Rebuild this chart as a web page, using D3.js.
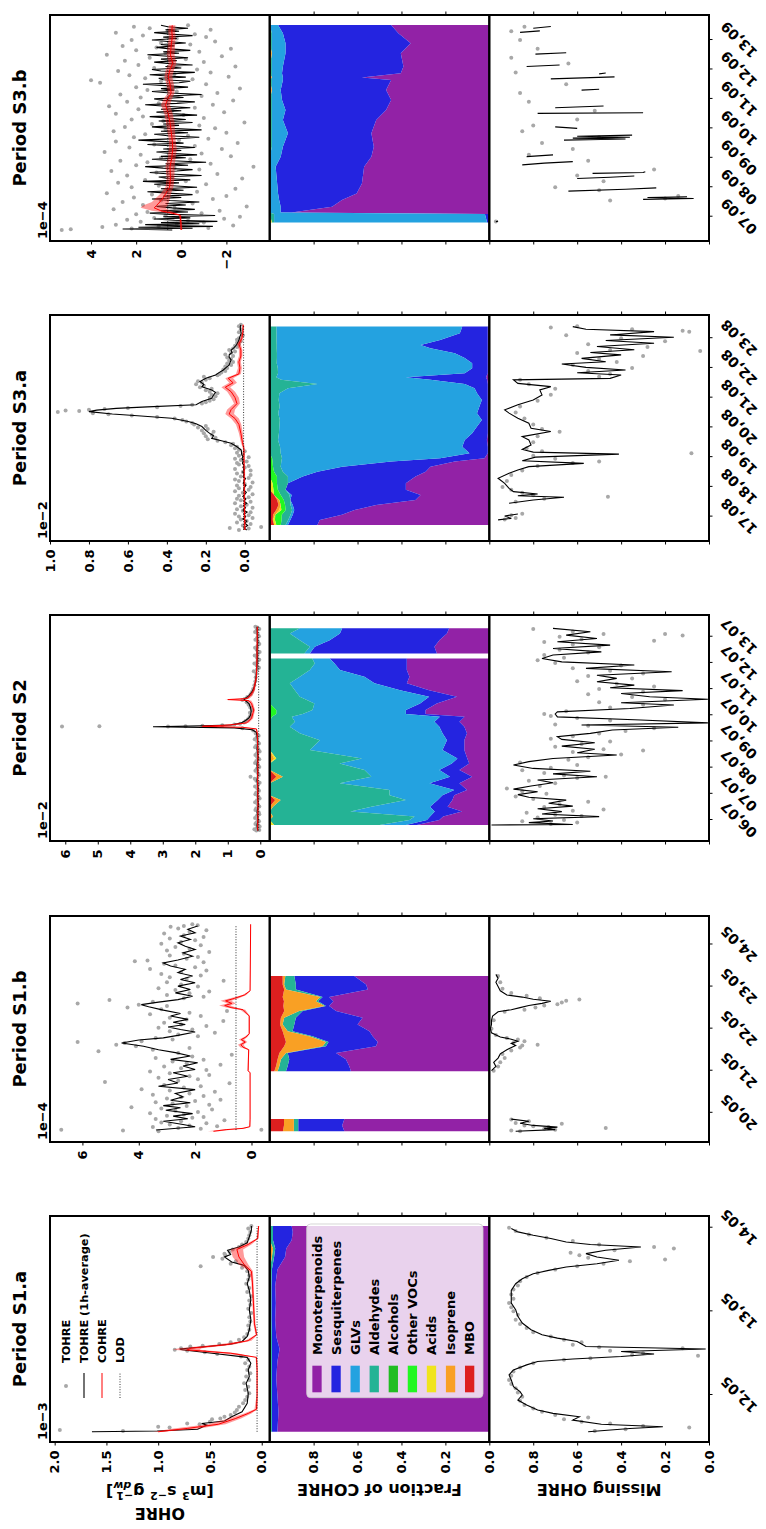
<!DOCTYPE html>
<html>
<head>
<meta charset="utf-8">
<script src="https://cdn.jsdelivr.net/npm/d3@7"></script>
<style>
  body { margin: 0; background: #fff; }
  svg { display: block; }
  text { font-family: "DejaVu Sans", sans-serif; font-weight: bold; }
</style>
</head>
<body>
<div id="chart"></div>
<script>
// index.html
// The figure is laid out landscape (5 periods side by side, 3 rows) and then turned onto the page.

// ---------- data : Period S1.a (May, OHRE x1e-3) ----------
const s1aDots = [[11.58,1.95],[11.57,1.34],[11.61,0.89],[11.62,1.0],[11.65,0.6],[11.66,0.72],[11.68,0.5],[11.71,0.48],[11.72,0.4],[11.74,0.36],[11.76,0.3],[11.79,0.26],[11.82,0.24],[11.86,0.22],[11.9,0.18],[11.94,0.16],
  [11.98,0.14],[12.02,0.12],[12.06,0.16],[12.1,0.13],[12.14,0.17],[12.18,0.12],[12.22,0.15],[12.26,0.11],[12.3,0.14],[12.34,0.12],[12.38,0.16],[12.42,0.13],[12.46,0.2],
  [12.49,0.43],[12.51,0.55],[12.53,0.72],[12.54,0.84],[12.56,0.78],[12.58,0.69],[12.59,0.57],[12.61,0.41],[12.63,0.3],[12.66,0.22],[12.69,0.17],
  [12.73,0.14],[12.78,0.12],[12.83,0.13],[12.88,0.11],[12.93,0.12],[12.98,0.1],[13.03,0.13],[13.08,0.11],[13.13,0.12],[13.18,0.1],[13.23,0.14],[13.28,0.12],[13.33,0.15],[13.38,0.13],[13.43,0.12],[13.48,0.14],[13.52,0.19],
  [13.54,0.59],[13.57,0.3],[13.6,0.25],[13.63,0.38],[13.65,0.47],[13.67,0.35],[13.69,0.36],[13.71,0.31],[13.74,0.28],[13.77,0.22],[13.8,0.19],[13.83,0.15],
  [13.87,0.13],[13.91,0.12],[13.95,0.11],[13.99,0.13],[14.02,0.1]];
const s1aAvg = [[11.56,1.64],[11.57,1.01],[11.59,0.62],[11.64,0.53],[11.66,0.58],[11.69,0.36],[11.74,0.29],[11.8,0.19],[11.9,0.14],[12.02,0.13],[12.14,0.15],[12.22,0.12],[12.3,0.13],[12.38,0.105],[12.45,0.14],[12.5,0.48],[12.54,0.77],[12.55,0.79],[12.58,0.53],[12.61,0.29],[12.64,0.19],[12.7,0.14],[12.78,0.12],[12.9,0.105],[13.02,0.12],[13.14,0.105],[13.25,0.12],[13.33,0.14],[13.41,0.12],[13.49,0.13],[13.55,0.17],[13.59,0.29],[13.65,0.36],[13.68,0.3],[13.73,0.33],[13.77,0.22],[13.82,0.14],[13.89,0.12],[13.97,0.1],[14.02,0.1]];
// COHRE: [day, value, low, high]
const s1aCohre = [[11.56,1.0,0.95,1.05],[11.6,0.72,0.6,0.85],[11.65,0.42,0.35,0.52],[11.72,0.25,0.2,0.32],[11.78,0.13,0.1,0.17],[11.83,0.05,0.04,0.07],[12.0,0.045,0.04,0.05],[12.3,0.045,0.04,0.05],[12.45,0.05,0.045,0.06],[12.5,0.3,0.24,0.4],[12.54,0.72,0.6,0.86],[12.56,0.68,0.58,0.8],[12.6,0.35,0.28,0.45],[12.65,0.13,0.1,0.16],[12.72,0.05,0.04,0.06],[12.85,0.07,0.06,0.08],[13.1,0.08,0.07,0.09],[13.35,0.09,0.08,0.1],[13.48,0.1,0.085,0.12],[13.56,0.17,0.13,0.22],[13.65,0.22,0.17,0.28],[13.74,0.24,0.18,0.3],[13.8,0.13,0.1,0.16],[13.87,0.04,0.03,0.05],[14.02,0.03,0.025,0.035]];
const s1aFracT = [11.56,11.8,12.0,12.2,12.4,12.55,12.7,12.9,13.1,13.3,13.5,13.65,13.75,13.85,13.95,14.02];
const s1aMono = [0.965,0.96,0.965,0.97,0.965,0.955,0.97,0.975,0.972,0.975,0.965,0.93,0.92,0.9,0.895,0.9];
const s1aSesq = [0.025,0.03,0.025,0.02,0.025,0.035,0.02,0.017,0.02,0.017,0.025,0.05,0.05,0.085,0.09,0.085];
const s1aAld = [0.01,0.01,0.01,0.01,0.01,0.01,0.01,0.008,0.008,0.008,0.01,0.01,0.01,0.015,0.015,0.015];
const s1aIso = [0,0,0,0,0,0,0,0,0,0,0,0.01,0.015,0,0,0];
const s1aMiss = [[11.56,0.55],[11.6,0.36],[11.62,0.21],[11.65,0.49],[11.7,0.62],[11.74,0.59],[11.78,0.71],[11.82,0.78],[11.88,0.83],[11.94,0.87],[12.0,0.85],[12.04,0.86],[12.1,0.89],[12.18,0.9],[12.24,0.91],[12.3,0.89],[12.36,0.83],[12.4,0.78],[12.43,0.62],[12.46,0.4],[12.49,0.25],[12.52,0.4],[12.55,0.015],[12.58,0.56],[12.61,0.58],[12.64,0.6],[12.68,0.69],[12.72,0.76],[12.78,0.81],[12.86,0.85],[12.94,0.87],[13.02,0.88],[13.1,0.9],[13.18,0.9],[13.25,0.9],[13.33,0.88],[13.39,0.85],[13.45,0.8],[13.49,0.73],[13.53,0.65],[13.57,0.51],[13.61,0.41],[13.65,0.51],[13.69,0.56],[13.73,0.47],[13.77,0.31],[13.8,0.54],[13.83,0.65],[13.87,0.72],[13.91,0.8],[13.95,0.87],[13.99,0.9]];
const s1aMissDots = [[11.57,0.52],[11.59,0.38],[11.61,0.09],[11.63,0.3],[11.66,0.45],[11.68,0.58],[11.71,0.66],[11.73,0.55],[11.76,0.7],[11.8,0.76],[11.84,0.8],[11.88,0.84],[11.93,0.86],[11.98,0.85],[12.03,0.87],[12.08,0.88],[12.13,0.9],[12.18,0.91],[12.23,0.9],[12.28,0.89],[12.33,0.86],[12.38,0.8],[12.42,0.66],[12.44,0.54],[12.47,0.05],[12.48,0.35],[12.5,0.3],[12.53,0.45],[12.56,0.12],[12.57,0.5],[12.6,0.62],[12.63,0.58],[12.66,0.66],[12.7,0.72],[12.75,0.8],[12.8,0.83],[12.85,0.86],[12.9,0.88],[12.96,0.87],[13.0,0.89],[13.05,0.9],[13.1,0.91],[13.15,0.89],[13.2,0.9],[13.26,0.89],[13.31,0.87],[13.36,0.86],[13.41,0.83],[13.46,0.78],[13.5,0.7],[13.54,0.6],[13.57,0.48],[13.6,0.36],[13.62,0.2],[13.64,0.55],[13.67,0.59],[13.7,0.63],[13.73,0.43],[13.75,0.16],[13.77,0.25],[13.8,0.5],[13.84,0.62],[13.88,0.74],[13.92,0.82],[13.96,0.88],[14.0,0.91]];

// ---------- data : Period S1.b (May, OHRE x1e-4) ----------
const s1bDots = [[19.56,3.3],[19.58,4.56],[19.6,6.75],[19.6,-0.35],[19.62,1.8],[19.64,2.6],[19.66,3.5],[19.68,1.22],[19.7,2.2],[19.72,2.9],[19.75,1.6],[19.77,3.2],[19.8,2.5],[19.82,0.96],[19.85,3.4],[19.88,2.1],[19.9,1.7],[19.93,3.0],[19.96,2.4],[19.99,3.6],[20.02,1.9],[20.05,2.7],[20.08,1.4],[20.1,3.2],[20.13,4.26],[20.16,2.3],[20.19,1.5],[20.22,2.8],[20.25,3.4],[20.28,2.0],[20.31,1.1],[20.34,3.0],[20.37,2.5],[20.4,1.7],[20.43,3.5],[20.46,2.2],[20.5,1.3],[20.53,2.9],[20.56,3.9],[20.6,2.4],[20.63,1.8],[20.66,3.1],[20.7,0.78],[20.73,5.2],[20.76,2.6],[20.8,1.9],[20.83,3.3],[20.87,2.2],[20.9,1.5],[20.94,2.9],[20.98,3.6],[21.02,1.6],[21.06,2.5],[21.1,3.1],[21.14,1.1],[21.18,2.3],[21.22,2.8],[21.26,1.7],[21.3,3.4],[21.34,2.1],[21.38,0.7],[21.42,2.6],[21.46,5.43],[21.5,3.5],[21.54,2.2],[21.58,4.1],[21.62,4.8],[21.66,4.5],[21.68,6.17],[21.7,3.9],[21.74,2.8],[21.78,3.4],[21.82,1.9],[21.86,2.6],[21.9,1.3],[21.94,2.9],[21.98,2.1],[22.02,3.3],[22.06,1.6],[22.1,2.5],[22.14,3.1],[22.18,1.0],[22.22,2.3],[22.26,2.9],[22.3,1.8],[22.34,3.6],[22.38,2.2],[22.42,0.87],[22.46,3.2],[22.5,4.4],[22.54,3.0],[22.57,4.0],[22.6,6.17],[22.64,3.5],[22.68,5.04],[22.72,2.4],[22.76,1.7],[22.8,3.0],[22.84,2.2],[22.88,1.5],[22.92,2.7],[22.96,3.3],[23.0,1.9],[23.05,2.5],[23.1,3.0],[23.14,0.99],[23.18,2.3],[23.22,2.9],[23.26,1.8],[23.3,3.2],[23.34,2.5],[23.38,1.6],[23.42,3.6],[23.46,2.0],[23.5,2.7],[23.54,3.1],[23.58,1.7],[23.6,4.14],[23.62,3.69],[23.66,2.3],[23.7,1.9],[23.74,2.9],[23.78,2.4],[23.82,1.5],[23.86,3.0],[23.9,2.2],[23.94,2.7],[23.98,1.8],[24.02,3.2],[24.06,2.5],[24.1,2.0],[24.14,2.9],[24.18,1.7],[24.22,2.4],[24.26,3.1],[24.3,2.2],[24.34,1.6],[24.38,2.6],[24.42,2.87],[24.44,2.4],[24.46,1.91],[24.48,2.1]];
const s1bAvg = [[19.59,3.39],[19.67,2.0],[19.72,2.43],[19.8,3.13],[19.86,2.26],[19.92,2.78],[19.98,2.09],[20.06,3.04],[20.12,2.52],[20.17,3.13],[20.24,2.17],[20.3,2.87],[20.38,2.43],[20.46,2.7],[20.55,2.0],[20.63,3.3],[20.71,2.61],[20.79,2.96],[20.87,2.26],[20.95,2.78],[21.03,2.0],[21.11,2.43],[21.19,1.91],[21.27,2.87],[21.35,2.17],[21.43,2.7],[21.5,3.3],[21.58,3.83],[21.66,4.61],[21.73,4.0],[21.78,3.13],[21.84,2.61],[21.92,2.0],[21.98,2.52],[22.04,2.96],[22.1,2.35],[22.15,2.78],[22.22,2.26],[22.3,2.87],[22.36,2.52],[22.44,3.13],[22.52,3.65],[22.57,3.91],[22.63,3.3],[22.69,2.61],[22.77,2.09],[22.85,2.7],[22.93,2.17],[23.01,2.61],[23.09,2.0],[23.17,2.52],[23.25,2.09],[23.33,2.61],[23.41,2.35],[23.49,2.87],[23.56,3.13],[23.63,2.61],[23.72,2.09],[23.8,2.43],[23.88,2.0],[23.96,2.35],[24.04,2.61],[24.12,2.17],[24.2,2.52],[24.28,2.0],[24.36,2.26],[24.44,1.91]];
const s1bCohre = [[19.56,1.35,1.15,1.55],[19.6,0.9,0.7,1.1],[19.63,0.3,0.2,0.4],[19.67,0.06,0.04,0.08],[19.85,0.05,0.04,0.06],[20.95,0.05,0.04,0.06],[21.0,0.12,0.1,0.14],[21.5,0.1,0.08,0.12],[21.56,0.3,0.22,0.4],[21.62,0.38,0.28,0.48],[21.68,0.22,0.15,0.3],[21.74,0.36,0.26,0.45],[21.8,0.2,0.14,0.26],[21.88,0.08,0.06,0.1],[22.3,0.08,0.06,0.1],[22.45,0.3,0.22,0.4],[22.5,0.72,0.55,0.9],[22.55,0.95,0.75,1.15],[22.6,0.7,0.55,0.85],[22.66,0.92,0.72,1.1],[22.72,0.6,0.45,0.75],[22.8,0.25,0.18,0.32],[22.9,0.05,0.04,0.06],[24.48,0.03,0.02,0.04]];
const s1bFracT = [19.56,19.70,19.85,20.99,21.11,21.27,21.42,21.58,21.68,21.82,21.94,22.10,22.26,22.42,22.54,22.65,22.75,22.93,23.05,23.25];
const s1bMono = [0.66,0.67,0.66,0.63,0.638,0.653,0.698,0.516,0.508,0.531,0.546,0.6,0.577,0.698,0.729,0.71,0.729,0.553,0.561,0.615];
const s1bSesq = [0.21,0.2,0.21,0.296,0.28,0.258,0.22,0.228,0.224,0.274,0.35,0.288,0.304,0.152,0.015,0.07,0.03,0.328,0.32,0.273];
const s1bAld = [0.02,0.02,0.02,0.038,0.038,0.038,0.008,0.015,0.012,0.015,0.022,0.053,0.053,0.016,0.007,0.01,0.01,0.045,0.053,0.041];
const s1bIso = [0.05,0.045,0.045,0.015,0.015,0.015,0.03,0.175,0.182,0.114,0.023,0.012,0.015,0.068,0.187,0.145,0.172,0.008,0.007,0.012];
const s1bMbo = [0.06,0.065,0.065,0.021,0.029,0.036,0.044,0.066,0.074,0.066,0.059,0.047,0.051,0.066,0.062,0.065,0.059,0.066,0.059,0.059];
const s1bMiss = [[19.56,0.88],[19.6,0.7],[19.63,0.75],[19.66,0.69],[19.7,0.8],[19.75,0.86],[19.8,0.82],[19.85,0.9],null,[21.0,0.99],[21.1,0.97],[21.2,0.98],[21.3,0.96],[21.4,0.95],[21.5,0.92],[21.6,0.88],[21.65,0.9],[21.7,0.87],[21.75,0.9],[21.8,0.95],[21.9,0.99],[22.0,0.995],[22.1,0.99],[22.2,0.99],[22.3,0.985],[22.4,0.96],[22.45,0.9],[22.5,0.86],[22.55,0.82],[22.6,0.76],[22.65,0.72],[22.7,0.8],[22.75,0.85],[22.8,0.92],[22.9,0.95],[23.0,0.96],[23.1,0.97],[23.2,0.96],[23.29,0.97]];
const s1bMissDots = [[19.56,0.86],[19.58,0.9],[19.6,0.7],[19.62,0.75],[19.64,0.47],[19.66,0.73],[19.68,0.8],[19.7,0.84],[19.74,0.67],[19.76,0.88],[19.8,0.82],[19.84,0.9],[21.0,0.98],[21.1,0.96],[21.2,0.95],[21.3,0.93],[21.4,0.94],[21.48,0.9],[21.55,0.86],[21.6,0.85],[21.62,0.78],[21.66,0.89],[21.7,0.84],[21.74,0.87],[21.78,0.92],[21.85,0.97],[22.0,0.99],[22.2,0.98],[22.4,0.93],[22.45,0.84],[22.5,0.79],[22.55,0.75],[22.58,0.69],[22.62,0.67],[22.66,0.65],[22.69,0.59],[22.72,0.77],[22.78,0.83],[22.85,0.9],[22.95,0.94],[23.1,0.95],[23.25,0.96]];

// ---------- data : Period S2 (July, OHRE x1e-2) ----------
const s2Dots = [[5.6,0.12],[5.62,0.03],[5.65,0.18],[5.7,0.1],[5.75,0.02],[5.8,0.06],[5.85,0.15],[5.9,0.12],[5.95,0.04],[6.0,0.08],[6.08,0.16],[6.15,0.11],[6.22,0.03],[6.3,0.05],[6.38,0.15],[6.45,0.12],[6.52,0.03],[6.6,0.08],[6.68,0.16],[6.75,0.1],[6.82,0.02],[6.9,0.06],[6.98,0.15],[7.05,0.12],[7.12,0.04],[7.2,0.09],[7.28,0.16],[7.35,0.07],[7.42,0.02],[7.5,0.12],[7.58,0.17],[7.65,0.3],[7.72,0.04],[7.8,0.08],[7.88,0.15],[7.95,0.11],[8.02,0.03],[8.1,0.07],[8.18,0.16],[8.25,0.12],[8.32,0.03],[8.4,0.09],[8.48,0.15],[8.55,0.1],[8.62,0.02],[8.7,0.06],[8.78,0.16],[8.85,0.12],[8.92,0.04],[9.0,0.09],[9.08,0.17],[9.15,0.11],[9.22,0.05],[9.3,0.14],[9.42,0.22],[9.5,0.55],[9.57,6.1],[9.58,4.95],[9.57,2.84],[9.58,2.3],[9.6,1.78],[9.62,1.17],[9.65,0.8],[9.68,0.62],[9.72,0.5],[9.78,0.45],[9.85,0.38],[9.92,0.33],[10.0,0.3],[10.1,0.32],[10.2,0.26],[10.3,0.31],[10.4,0.36],[10.5,0.42],[10.58,0.55],[10.62,0.48],[10.7,0.4],[10.8,0.3],[10.9,0.25],[11.0,0.22],[11.15,0.18],[11.3,0.15],[11.45,0.14],[11.6,0.12],[11.68,0.2],[11.75,0.1],[11.82,0.04],[11.9,0.11],[11.98,0.18],[12.05,0.09],[12.12,0.03],[12.2,0.1],[12.28,0.17],[12.35,0.08],[12.42,0.02],[12.5,0.11],[12.58,0.16],[12.65,0.09],[12.72,0.03],[12.8,0.07],[12.88,0.15],[12.95,0.1],[13.02,0.04],[13.1,0.08],[13.18,0.16],[13.25,0.11],[13.3,0.03],[13.35,0.09],[13.38,0.15]];
const s2Avg = [[5.6,0.08],[5.8,0.1],[6.0,0.07],[6.3,0.1],[6.6,0.06],[6.9,0.09],[7.2,0.07],[7.5,0.1],[7.8,0.08],[8.1,0.1],[8.4,0.07],[8.7,0.1],[9.0,0.08],[9.2,0.1],[9.35,0.12],[9.45,0.25],[9.52,0.8],[9.56,3.3],[9.6,1.8],[9.63,0.9],[9.7,0.6],[9.8,0.45],[9.9,0.35],[10.0,0.3],[10.15,0.28],[10.3,0.3],[10.45,0.35],[10.55,0.45],[10.62,0.5],[10.68,0.42],[10.75,0.35],[10.9,0.25],[11.1,0.18],[11.3,0.14],[11.6,0.12],[11.9,0.1],[12.2,0.09],[12.5,0.1],[12.8,0.08],[13.1,0.09],[13.38,0.1]];
const s2Cohre = [[5.6,0.08,0.06,0.1],[6.5,0.07,0.05,0.09],[7.5,0.08,0.06,0.1],[8.5,0.07,0.05,0.09],[9.3,0.09,0.07,0.11],[9.48,0.12,0.1,0.15],[9.54,0.55,0.45,0.7],[9.58,1.78,1.5,2.0],[9.61,1.2,1.0,1.4],[9.64,0.87,0.72,1.0],[9.71,0.42,0.35,0.5],[9.88,0.27,0.22,0.32],[10.2,0.2,0.16,0.24],[10.45,0.27,0.22,0.32],[10.56,0.35,0.28,0.42],[10.6,1.0,0.85,1.1],[10.64,0.4,0.33,0.48],[10.75,0.3,0.24,0.36],[10.96,0.2,0.16,0.24],[11.47,0.12,0.1,0.14],[12.2,0.1,0.08,0.12],[13.38,0.09,0.07,0.11]];
const s2FracT = [5.81,6.0,6.13,6.32,6.51,6.76,6.95,7.15,7.4,7.65,7.91,8.16,8.35,8.67,9.05,9.31,9.56,9.75,9.94,10.05,10.2,10.45,10.71,10.96,11.22,11.47,11.73,11.98,12.17,12.36,12.62,12.87,13.12,13.32];
const s2Mono = [0.33,0.224,0.21,0.123,0.19,0.168,0.157,0.1,0.134,0.078,0.134,0.09,0.1,0.112,0.112,0.1,0.112,0.134,0.112,0.29,0.29,0.235,0.145,0.27,0.37,0.358,0.37,0.37,0.37,0.235,0.246,0.224,0.19,0.18];
const s2Sesq = [0.05,0.056,0.06,0.123,0.08,0.067,0.053,0.057,0.134,0.101,0.09,0.078,0.045,0.098,0.078,0.11,0.112,0.112,0.112,0.09,0.09,0.075,0.125,0.13,0.145,0.202,0.3,0.324,0.346,0.57,0.537,0.492,0.48,0.48];
const s2Glv = [0.12,0.078,0.07,0.38,0.267,0.145,0.237,0.29,0.403,0.358,0.335,0.503,0.435,0.595,0.57,0.64,0.671,0.626,0.671,0.47,0.425,0.473,0.58,0.472,0.38,0.29,0.135,0.089,0.078,0.025,0.022,0.134,0.225,0.19];
const s2Ald = [0.48,0.627,0.645,0.364,0.448,0.57,0.537,0.537,0.313,0.403,0.425,0.313,0.39,0.18,0.225,0.135,0.09,0.113,0.09,0.12,0.165,0.2,0.135,0.113,0.09,0.135,0.18,0.202,0.191,0.155,0.18,0.135,0.09,0.135];
const s2Oth = [0,0,0,0,0,0,0,0,0,0,0,0,0,0,0,0,0,0,0.01,0.03,0.03,0,0,0,0,0,0,0,0,0,0,0,0,0];
const s2Acid = [0.02,0,0,0,0,0,0,0,0,0,0,0,0.01,0,0,0,0,0,0,0,0,0,0,0,0,0,0,0,0,0,0,0,0,0];
const s2Iso = [0,0,0.015,0,0.015,0.025,0,0,0,0.03,0,0,0.02,0,0,0,0,0,0,0,0,0,0,0,0,0,0,0,0,0,0,0,0,0];
const s2Mbo = [0,0,0,0,0,0.025,0,0,0,0.03,0,0,0,0,0,0,0,0,0,0,0,0,0,0,0,0,0,0,0,0,0,0,0,0];
const s2Miss = [[5.81,0.99],[5.83,0.62],[5.9,0.82],[5.96,0.71],[6.05,0.8],[6.13,0.5],[6.23,0.76],[6.32,0.67],[6.43,0.78],[6.53,0.62],[6.64,0.73],[6.76,0.65],[6.87,0.82],[6.97,0.87],[7.08,0.78],[7.18,0.89],[7.3,0.81],[7.42,0.71],[7.53,0.78],[7.65,0.51],[7.76,0.71],[7.86,0.54],[7.97,0.8],[8.1,0.89],[8.23,0.82],[8.35,0.71],[8.48,0.42],[8.57,0.6],[8.7,0.52],[8.82,0.67],[8.95,0.52],[9.08,0.67],[9.18,0.69],[9.31,0.54],[9.44,0.44],[9.54,0.14],[9.63,0.58],[9.71,0.005],[9.82,0.31],[9.94,0.69],[10.05,0.7],[10.13,0.69],[10.26,0.36],[10.39,0.16],[10.48,0.4],[10.61,0.005],[10.71,0.27],[10.83,0.4],[10.94,0.12],[11.05,0.45],[11.15,0.34],[11.28,0.51],[11.41,0.42],[11.53,0.51],[11.66,0.17],[11.79,0.56],[11.92,0.34],[12.04,0.67],[12.17,0.76],[12.3,0.71],[12.42,0.49],[12.55,0.71],[12.68,0.45],[12.81,0.69],[12.93,0.51],[13.06,0.65],[13.19,0.54],[13.32,0.71]];
const s2MissDots = [[5.85,0.72],[5.9,0.6],[5.95,0.85],[6.0,0.66],[6.1,0.78],[6.15,0.58],[6.2,0.7],[6.28,0.83],[6.35,0.62],[6.4,0.48],[6.5,0.75],[6.6,0.68],[6.7,0.55],[6.8,0.8],[6.9,0.88],[7.0,0.74],[7.1,0.85],[7.2,0.92],[7.3,0.77],[7.4,0.7],[7.5,0.82],[7.6,0.6],[7.65,0.47],[7.7,0.66],[7.8,0.75],[7.9,0.85],[8.0,0.72],[8.1,0.6],[8.2,0.86],[8.3,0.64],[8.4,0.55],[8.5,0.4],[8.6,0.62],[8.65,0.3],[8.7,0.48],[8.8,0.7],[8.9,0.58],[9.0,0.45],[9.1,0.72],[9.2,0.62],[9.3,0.5],[9.4,0.38],[9.5,0.25],[9.6,0.55],[9.65,0.7],[9.8,0.45],[9.9,0.6],[9.97,0.72],[10.05,0.75],[10.15,0.65],[10.3,0.45],[10.4,0.3],[10.5,0.5],[10.6,0.2],[10.7,0.35],[10.8,0.55],[10.9,0.3],[11.0,0.5],[11.1,0.25],[11.2,0.42],[11.3,0.6],[11.4,0.35],[11.5,0.55],[11.6,0.3],[11.7,0.45],[11.8,0.62],[11.9,0.4],[12.0,0.7],[12.1,0.78],[12.2,0.66],[12.3,0.75],[12.4,0.55],[12.5,0.68],[12.6,0.5],[12.7,0.62],[12.8,0.75],[12.9,0.58],[13.0,0.68],[13.1,0.48],[13.2,0.62],[13.3,0.8],[13.1,0.2],[12.85,0.25],[13.05,0.12]];

// ---------- data : Period S3.a (August, OHRE x1e-2) ----------
const s3aDots = [[16.55,0.03],[16.6,-0.02],[16.62,0.077],[16.65,-0.084],[16.7,0.01],[16.75,-0.03],[16.8,0.04],[16.85,-0.01],[16.9,0.02],[16.95,-0.04],[17.0,0.03],[17.05,-0.02],[17.1,0.05],[17.15,-0.03],[17.2,0.01],[17.25,0.04],[17.3,-0.04],[17.35,0.02],[17.4,-0.01],[17.45,0.05],[17.5,-0.03],[17.55,0.02],[17.6,0.04],[17.65,-0.02],[17.7,0.03],[17.75,-0.04],[17.8,0.01],[17.85,0.05],[17.9,-0.02],[17.95,0.03],[18.0,-0.03],[18.05,0.04],[18.1,0.0],[18.15,-0.04],[18.2,0.03],[18.25,0.05],[18.3,-0.02],[18.35,0.02],[18.4,-0.03],[18.45,0.04],[18.5,0.01],[18.55,-0.03],[18.6,0.05],[18.65,0.0],[18.7,-0.02],[18.75,0.03],[18.8,0.04],[18.85,-0.01],[18.9,0.02],[18.95,0.05],[19.0,-0.02],[19.05,0.03],[19.1,0.01],[19.15,0.04],[19.2,0.0],[19.25,0.03],[19.3,0.05],[19.35,0.04],[19.4,0.07],[19.45,0.06],[19.5,0.1],[19.55,0.14],[19.6,0.19],[19.65,0.15],[19.7,0.2],[19.75,0.17],[19.8,0.21],[19.85,0.16],[19.9,0.22],[19.95,0.19],[20.0,0.24],[20.05,0.2],[20.1,0.26],[20.15,0.27],[20.2,0.3],[20.25,0.32],[20.3,0.36],[20.35,0.45],[20.4,0.58],[20.44,0.7],[20.48,0.78],[20.52,0.96],[20.55,0.85],[20.57,0.92],[20.59,0.8],[20.62,0.72],[20.65,0.6],[20.68,0.45],[20.72,0.33],[20.76,0.27],[20.8,0.22],[20.85,0.2],[20.9,0.18],[20.95,0.16],[21.0,0.18],[21.05,0.15],[21.1,0.17],[21.15,0.14],[21.2,0.18],[21.25,0.2],[21.3,0.17],[21.35,0.23],[21.4,0.21],[21.45,0.25],[21.5,0.22],[21.55,0.24],[21.6,0.2],[21.65,0.18],[21.7,0.21],[21.75,0.14],[21.8,0.13],[21.85,0.12],[21.9,0.1],[21.95,0.11],[22.0,0.09],[22.05,0.1],[22.1,0.07],[22.15,0.09],[22.2,0.06],[22.25,0.08],[22.3,0.07],[22.35,0.09],[22.4,0.06],[22.45,0.1],[22.5,0.07],[22.55,0.05],[22.6,0.08],[22.65,0.06],[22.7,0.04],[22.75,0.05],[22.8,0.03],[22.85,0.04],[22.9,0.02],[22.95,0.04],[23.0,0.03],[23.1,0.01],[23.2,0.03],[23.3,0.02],[23.4,0.03],[23.45,0.02]];
const s3aAvg = [[16.55,-0.01],[16.62,0.005],[16.7,-0.015],[16.78,0.0],[16.85,-0.01],[16.92,0.01],[17.0,-0.005],[17.08,0.005],[17.15,-0.012],[17.22,0.008],[17.3,-0.004],[17.38,0.006],[17.45,-0.01],[17.52,0.004],[17.6,-0.006],[17.68,0.01],[17.75,0.0],[17.82,-0.008],[17.9,0.006],[17.98,0.002],[18.05,-0.006],[18.12,0.008],[18.2,0.004],[18.28,-0.004],[18.35,0.008],[18.42,0.003],[18.5,0.01],[18.58,0.002],[18.65,0.009],[18.72,0.005],[18.8,0.012],[18.88,0.008],[18.95,0.014],[19.02,0.01],[19.1,0.016],[19.24,0.018],[19.35,0.04],[19.47,0.07],[19.55,0.12],[19.63,0.17],[19.72,0.16],[19.8,0.18],[19.9,0.2],[20.03,0.22],[20.12,0.25],[20.2,0.29],[20.31,0.375],[20.39,0.55],[20.45,0.68],[20.53,0.8],[20.58,0.76],[20.64,0.66],[20.69,0.5],[20.76,0.25],[20.87,0.22],[20.98,0.17],[21.09,0.16],[21.18,0.15],[21.26,0.17],[21.37,0.22],[21.45,0.21],[21.54,0.23],[21.65,0.2],[21.76,0.15],[21.85,0.13],[21.93,0.11],[22.02,0.095],[22.1,0.08],[22.19,0.075],[22.27,0.07],[22.36,0.08],[22.44,0.08],[22.52,0.065],[22.6,0.07],[22.68,0.055],[22.77,0.043],[22.86,0.035],[22.94,0.03],[23.05,0.025],[23.17,0.018],[23.28,0.022],[23.39,0.023],[23.45,0.02]];
const s3aCohre = [[16.55,0.0,-0.005,0.005],[17.5,0.002,-0.003,0.007],[18.5,0.003,-0.002,0.008],[19.3,0.005,0.0,0.01],[19.5,0.012,0.005,0.02],[19.8,0.02,0.01,0.03],[20.1,0.03,0.018,0.045],[20.3,0.05,0.03,0.07],[20.45,0.08,0.055,0.1],[20.6,0.07,0.05,0.09],[20.8,0.04,0.025,0.055],[21.0,0.05,0.03,0.07],[21.2,0.07,0.05,0.09],[21.35,0.1,0.075,0.12],[21.5,0.06,0.04,0.08],[21.65,0.085,0.06,0.1],[21.8,0.03,0.02,0.045],[22.0,0.025,0.015,0.035],[22.2,0.03,0.02,0.04],[22.4,0.02,0.012,0.03],[22.6,0.02,0.012,0.03],[22.8,0.03,0.02,0.04],[23.0,0.015,0.008,0.022],[23.2,0.01,0.005,0.015],[23.45,0.008,0.004,0.012]];
const s3aFracT = [16.72,16.89,17.06,17.22,17.39,17.56,17.73,17.9,18.12,18.35,18.51,18.68,18.85,18.96,19.13,19.35,19.58,19.8,20.03,20.25,20.48,20.7,20.92,21.15,21.32,21.46,21.6,21.69,21.82,21.99,22.16,22.33,22.49,22.66,22.77,22.94,23.17,23.39];
const s3aMono = [0.783,0.772,0.671,0.626,0.515,0.336,0.313,0.38,0.38,0.336,0.29,0.268,0.157,0.022,0.007,0.007,0.011,0.007,0.007,0.007,0.007,0.007,0.007,0.007,0.007,0.007,0.01,0.015,0.007,0.007,0.007,0.007,0.007,0.007,0.007,0.007,0.007,0.007];
const s3aSesq = [0.134,0.134,0.224,0.28,0.38,0.57,0.587,0.548,0.537,0.514,0.493,0.402,0.29,0.202,0.083,0.116,0.101,0.071,0.049,0.027,0.049,0.038,0.027,0.049,0.06,0.105,0.258,0.365,0.105,0.071,0.071,0.105,0.15,0.261,0.306,0.217,0.127,0.116];
const s3aGlv = [0.011,0.01,0.01,0.01,0.01,0,0.01,0,0,0.067,0.157,0.28,0.5,0.72,0.86,0.83,0.85,0.88,0.9,0.92,0.905,0.91,0.925,0.9,0.85,0.67,0.68,0.59,0.85,0.885,0.89,0.855,0.81,0.7,0.655,0.745,0.835,0.847];
const s3aAld = [0.022,0.03,0.04,0.03,0.025,0.03,0.04,0.035,0.05,0.05,0.04,0.035,0.04,0.045,0.05,0.047,0.038,0.042,0.044,0.046,0.039,0.045,0.041,0.044,0.083,0.218,0.052,0.03,0.038,0.037,0.032,0.033,0.033,0.032,0.032,0.031,0.031,0.03];
const s3aOth = [0.02,0.03,0.03,0.02,0.02,0.02,0.03,0.02,0.02,0.033,0.02,0.015,0.013,0.011,0,0,0,0,0,0,0,0,0,0,0,0,0,0,0,0,0,0,0,0,0,0,0,0];
const s3aAcid = [0.01,0.01,0,0.01,0,0,0,0.017,0.013,0,0,0,0,0,0,0,0,0,0,0,0,0,0,0,0,0,0,0,0,0,0,0,0,0,0,0,0,0];
const s3aIso = [0,0,0.01,0.014,0.01,0.01,0,0,0,0,0,0,0,0,0,0,0,0,0,0,0,0,0,0,0,0,0,0,0,0,0,0,0,0,0,0,0,0];
const s3aMbo = [0.02,0.014,0.015,0.03,0.04,0.034,0.02,0,0,0,0,0,0,0,0,0,0,0,0,0,0,0,0,0,0,0,0,0,0,0,0,0,0,0,0,0,0,0];
const s3aMiss = [[16.89,0.96],[16.94,0.9],[17.02,0.93],[17.09,0.87],null,[17.45,0.91],[17.56,0.8],[17.65,0.66],[17.7,0.87],[17.76,0.78],[17.84,0.89],[17.95,0.91],[18.12,0.93],[18.29,0.96],[18.46,0.91],[18.57,0.87],[18.68,0.82],[18.79,0.57],[18.88,0.85],[19.0,0.79],[19.1,0.41],[19.17,0.8],[19.26,0.85],[19.41,0.81],[19.58,0.82],[19.69,0.85],[19.86,0.72],[19.97,0.81],[20.14,0.82],[20.31,0.87],[20.48,0.91],[20.59,0.93],[20.76,0.87],[20.92,0.8],[21.09,0.76],[21.26,0.77],[21.37,0.72],[21.48,0.87],[21.6,0.89],[21.65,0.45],[21.76,0.4],[21.84,0.6],[21.93,0.38],[22.02,0.56],[22.13,0.67],[22.21,0.47],[22.32,0.58],[22.44,0.4],[22.52,0.54],[22.61,0.34],[22.72,0.51],[22.83,0.25],[22.92,0.47],[23.03,0.16],[23.11,0.45],[23.22,0.25],[23.3,0.56],[23.39,0.62]];
const s3aMissDots = [[16.9,0.93],[16.95,0.88],[17.05,0.9],[17.1,0.85],[17.5,0.88],[17.6,0.75],[17.67,0.46],[17.72,0.8],[17.8,0.85],[17.9,0.9],[18.0,0.94],[18.2,0.92],[18.4,0.9],[18.55,0.85],[18.7,0.78],[18.8,0.62],[18.85,0.5],[18.95,0.7],[19.05,0.8],[19.13,0.08],[19.2,0.76],[19.3,0.83],[19.5,0.8],[19.7,0.78],[19.85,0.68],[19.95,0.76],[20.1,0.8],[20.3,0.84],[20.5,0.88],[20.7,0.86],[20.9,0.78],[21.1,0.72],[21.3,0.7],[21.45,0.82],[21.6,0.86],[21.7,0.5],[21.8,0.45],[21.9,0.55],[22.0,0.35],[22.1,0.62],[22.2,0.42],[22.3,0.5],[22.4,0.3],[22.5,0.6],[22.57,0.04],[22.6,0.45],[22.7,0.28],[22.8,0.55],[22.9,0.2],[23.0,0.4],[23.1,0.65],[23.22,0.09],[23.25,0.12],[23.3,0.35],[23.36,0.72],[23.4,0.6]];

// ---------- data : Period S3.b (September, OHRE x1e-4) ----------
const s3bDots = [[6.55,5.3],[6.57,4.9],[6.6,2.2],[6.62,-1.2],[6.65,3.5],[6.68,1.0],[6.7,-2.3],[6.73,2.9],[6.76,0.2],[6.8,-1.0],[6.83,1.8],[6.86,-0.3],[6.9,2.4],[6.93,-1.9],[6.96,1.2],[7.0,-2.6],[7.04,0.7],[7.08,2.0],[7.12,-0.9],[7.16,1.5],[7.2,-1.7],[7.25,3.0],[7.3,0.3],[7.35,-2.9],[7.4,1.7],[7.45,-0.5],[7.5,2.6],[7.55,0.9],[7.6,-1.4],[7.65,2.1],[7.7,-2.0],[7.75,1.3],[7.8,3.3],[7.85,-0.7],[7.9,0.6],[7.95,-2.4],[8.0,2.2],[8.05,1.0],[8.1,-1.1],[8.15,2.8],[8.2,-0.2],[8.25,1.6],[8.3,-2.7],[8.35,0.4],[8.4,2.4],[8.45,-1.6],[8.5,1.1],[8.55,3.1],[8.6,-0.8],[8.65,0.3],[8.7,-3.2],[8.75,2.0],[8.8,-1.3],[8.85,1.5],[8.9,2.7],[8.95,-0.4],[9.0,0.9],[9.05,-2.2],[9.1,1.8],[9.15,-0.9],[9.2,3.4],[9.25,0.5],[9.3,-1.8],[9.35,2.3],[9.4,-0.6],[9.45,1.2],[9.5,-2.5],[9.55,2.9],[9.6,0.1],[9.65,-1.2],[9.7,2.1],[9.75,-0.3],[9.8,1.6],[9.85,-2.0],[9.9,3.0],[9.95,0.7],[10.0,-1.5],[10.05,2.5],[10.1,-0.8],[10.15,1.3],[10.2,-2.8],[10.25,0.8],[10.3,2.2],[10.35,-1.0],[10.4,1.7],[10.45,-0.1],[10.5,2.9],[10.55,-1.9],[10.6,0.4],[10.65,1.9],[10.7,-0.6],[10.75,3.2],[10.8,-1.4],[10.85,1.0],[10.9,2.4],[10.95,-2.3],[11.0,0.6],[11.05,1.8],[11.1,-0.9],[11.15,2.7],[11.2,-1.6],[11.25,0.2],[11.3,1.5],[11.35,-2.6],[11.4,2.0],[11.45,0.5],[11.5,-1.1],[11.55,3.6],[11.6,0.9],[11.63,4.0],[11.67,-0.5],[11.7,1.6],[11.75,-2.1],[11.8,2.3],[11.85,0.3],[11.9,-1.3],[11.95,2.8],[12.0,-0.7],[12.05,1.2],[12.1,-2.4],[12.15,1.9],[12.2,0.4],[12.25,-1.0],[12.3,2.5],[12.35,-0.2],[12.4,1.4],[12.45,-1.8],[12.5,3.3],[12.55,0.7],[12.6,-0.8],[12.65,2.0],[12.7,-2.2],[12.75,1.1],[12.8,2.6],[12.85,-0.4],[12.9,0.9],[12.95,-1.5],[13.0,2.2],[13.05,0.2],[13.1,-1.1],[13.15,1.7],[13.2,-0.6],[13.25,2.9],[13.3,0.6],[13.35,-1.3],[13.4,1.4],[13.45,2.1],[13.5,-0.3]];
const s3bAvg = [[6.55,0.4],[6.58,2.6],[6.61,-0.5],[6.64,1.9],[6.67,-1.4],[6.7,0.6],[6.73,1.6],[6.76,-0.8],[6.8,0.9],[6.84,-1.6],[6.88,0.3],[6.92,1.2],[6.96,-0.4],[7.0,0.8],[7.04,-1.5],[7.08,0.5],[7.12,1.4],[7.16,-0.3],[7.2,0.9],[7.25,-0.6],[7.3,0.4],[7.35,1.1],[7.4,-0.2],[7.45,0.7],[7.5,-0.8],[7.55,0.5],[7.6,1.3],[7.65,0.0],[7.7,0.8],[7.75,-0.5],[7.8,0.6],[7.85,1.5],[7.9,-0.1],[7.95,0.9],[8.0,-0.7],[8.05,0.4],[8.1,1.2],[8.15,0.1],[8.2,1.7],[8.25,-0.4],[8.3,0.6],[8.35,1.0],[8.4,-0.9],[8.45,0.5],[8.5,1.4],[8.55,0.2],[8.6,-0.5],[8.65,0.8],[8.7,1.6],[8.75,-0.3],[8.8,0.7],[8.85,-1.1],[8.9,0.4],[8.95,1.3],[9.0,-0.2],[9.05,0.9],[9.1,-0.7],[9.15,0.5],[9.2,1.1],[9.25,0.0],[9.3,0.8],[9.35,-0.6],[9.4,0.3],[9.45,1.5],[9.5,-0.1],[9.55,0.7],[9.6,1.9],[9.65,0.2],[9.7,-0.8],[9.75,0.6],[9.8,1.2],[9.85,-0.3],[9.9,0.9],[9.95,-0.9],[10.0,0.5],[10.05,1.3],[10.1,0.1],[10.15,0.8],[10.2,-0.5],[10.25,1.0],[10.3,-0.2],[10.35,0.6],[10.4,1.4],[10.45,-0.7],[10.5,0.4],[10.55,1.1],[10.6,0.0],[10.65,0.9],[10.7,-0.4],[10.75,0.7],[10.8,1.6],[10.85,0.2],[10.9,-0.6],[10.95,0.8],[11.0,1.2],[11.05,-0.1],[11.1,0.6],[11.15,-0.9],[11.2,0.5],[11.25,1.3],[11.3,0.3],[11.35,0.9],[11.4,-0.3],[11.45,0.7],[11.5,1.7],[11.55,0.1],[11.6,-0.4],[11.65,0.8],[11.7,1.0],[11.74,-0.2],[11.78,0.6],[11.82,1.4],[11.86,0.3],[11.9,-0.6],[11.95,0.9],[12.0,1.3],[12.05,0.0],[12.1,0.7],[12.15,-0.5],[12.2,0.5],[12.25,1.2],[12.3,0.2],[12.35,0.9],[12.4,-0.3],[12.45,0.6],[12.5,1.5],[12.55,0.1],[12.6,0.8],[12.65,-0.4],[12.7,0.5],[12.75,1.1],[12.8,0.3],[12.85,0.9],[12.9,-0.2],[12.95,0.6],[13.0,1.3],[13.05,0.2],[13.1,0.8],[13.15,-0.5],[13.2,0.5],[13.25,1.2],[13.3,0.1],[13.35,0.7],[13.4,-0.3],[13.45,0.6],[13.5,0.9]];
const s3bCohre = [[6.55,0.0,-0.05,0.05],[6.8,0.02,-0.03,0.07],[7.05,0.05,0,0.1],[7.12,0.4,0.2,0.6],[7.2,0.9,0.5,1.3],[7.3,1.2,0.7,1.8],[7.38,1.1,0.6,1.7],[7.5,0.95,0.55,1.3],[7.65,0.8,0.5,1.1],[7.8,0.68,0.45,0.9],[8.0,0.52,0.35,0.7],[8.3,0.48,0.3,0.65],[8.7,0.5,0.3,0.7],[9.0,0.42,0.25,0.6],[9.3,0.38,0.2,0.55],[9.6,0.4,0.25,0.55],[9.9,0.45,0.28,0.62],[10.2,0.5,0.3,0.68],[10.5,0.58,0.38,0.75],[10.8,0.7,0.5,0.9],[11.0,0.6,0.42,0.78],[11.2,0.45,0.3,0.6],[11.5,0.5,0.33,0.66],[11.75,0.58,0.4,0.75],[12.0,0.5,0.32,0.68],[12.2,0.38,0.22,0.55],[12.5,0.48,0.3,0.65],[12.8,0.45,0.28,0.6],[13.1,0.4,0.25,0.55],[13.3,0.42,0.28,0.58],[13.5,0.4,0.26,0.55]];
const s3bFracT = [6.8,7.09,7.14,7.34,7.57,7.79,8.13,8.7,9.04,9.38,9.83,10.28,10.62,10.96,11.3,11.64,11.73,11.87,12.1,12.55,12.89,13.23,13.51];
const s3bMono = [0,0,0.9,0.716,0.671,0.604,0.58,0.57,0.537,0.526,0.537,0.515,0.47,0.447,0.47,0.447,0.58,0.403,0.391,0.403,0.358,0.414,0.447];
const s3bSesq = [0.01,0.02,0.05,0.234,0.286,0.358,0.386,0.403,0.413,0.414,0.38,0.425,0.458,0.497,0.48,0.493,0.36,0.541,0.549,0.525,0.57,0.526,0.515];
const s3bGlv = [0.97,0.96,0.05,0.05,0.043,0.038,0.034,0.027,0.05,0.05,0.073,0.05,0.062,0.046,0.04,0.05,0.05,0.046,0.05,0.062,0.062,0.05,0.038];
const s3bAld = [0.01,0.02,0,0,0,0,0,0,0,0.01,0.01,0.01,0.01,0.01,0,0.01,0,0.01,0.01,0,0.01,0.01,0];
const s3bAcid = [0.01,0,0,0,0,0,0,0,0,0,0,0,0,0,0,0,0,0,0,0,0,0,0];
const s3bIso = [0,0,0,0,0,0,0,0,0,0,0,0,0,0,0.01,0,0.01,0,0,0.01,0,0,0];
const s3bMiss = [[6.83,0.97],[6.85,0.96],null,[7.59,0.3],[7.62,0.07],[7.65,0.28],[7.68,0.1],null,[7.87,0.64],[7.93,0.38],[7.98,0.24],null,[8.3,0.6],[8.34,0.45],[8.38,0.34],null,[8.47,0.53],[8.5,0.3],[8.53,0.29],null,[8.76,0.85],[8.82,0.75],[8.87,0.62],null,[9.04,0.83],[9.1,0.71],null,[9.6,0.66],[9.64,0.38],[9.67,0.62],[9.7,0.36],[9.73,0.6],[9.77,0.35],null,[10.0,0.6],[10.05,0.7],null,[10.51,0.78],[10.53,0.3],null,[10.7,0.7],[10.76,0.48],null,[11.3,0.58],[11.33,0.5],null,[11.68,0.72],[11.75,0.43],null,[11.85,0.5],[11.88,0.47],null,[12.1,0.83],[12.15,0.68],null,[12.52,0.79],[12.57,0.65],null,[13.26,0.86],[13.31,0.77],null,[13.4,0.8],[13.46,0.72]];
const s3bMissDots = [[6.84,0.97],[7.55,0.45],[7.62,0.2],[7.7,0.14],[7.9,0.5],[8.0,0.7],[8.2,0.48],[8.4,0.6],[8.6,0.25],[8.9,0.55],[9.1,0.82],[9.3,0.62],[9.5,0.76],[9.7,0.5],[9.9,0.85],[10.1,0.8],[10.3,0.6],[10.6,0.52],[10.9,0.82],[11.2,0.86],[11.5,0.65],[11.9,0.88],[12.2,0.64],[12.4,0.9],[12.7,0.78],[13.0,0.86],[13.3,0.9],[13.45,0.84]];

// limit of detection per period (same units as OHRE axis)
const lodLevels = [0.045, 0.55, 0.05, 0.006, 0.6];

// categories of the COHRE fractions, bottom of stack first
const fracKeys = ["mono", "sesq", "glv", "ald", "alc", "oth", "acid", "iso", "mbo"];
const fracLabels = ["Monoterpenoids", "Sesquiterpenes", "GLVs", "Aldehydes", "Alcohols", "Other VOCs", "Acids", "Isoprene", "MBO"];
const fracColors = ["#9222a6", "#2424e0", "#24a2e0", "#24b395", "#22bd22", "#22f722", "#f0e41e", "#f9a024", "#dd1f1f"];

// ---------- layout ----------
const FW = 1529, FH = 766;          // landscape figure size
const PW = 226;                     // panel width along time
const rowTop = [50, 269.7, 489.3];
const rowBot = [269.7, 489.3, 709];

const periods = [
  { title: "Period S1.a", x0: 87,   month: 4, days: [11.438, 14.14], vDom: [-0.077, 2.045], vTicks: [0, 0.5, 1, 1.5, 2], vFmt: ".1f", mult: "1e\u22123",
    dots: s1aDots, avg: s1aAvg, cohre: s1aCohre, lod: lodLevels[0],
    fracT: s1aFracT, frac: { mono: s1aMono, sesq: s1aSesq, ald: s1aAld, iso: s1aIso }, breaks: [],
    miss: s1aMiss, missDots: s1aMissDots },
  { title: "Period S1.b", x0: 387,  month: 4, days: [19.306, 24.677], vDom: [-0.646, 7.15], vTicks: [0, 2, 4, 6], vFmt: "d", mult: "1e\u22124",
    dots: s1bDots, avg: s1bAvg, cohre: s1bCohre, lod: lodLevels[1],
    fracT: s1bFracT, frac: { mono: s1bMono, sesq: s1bSesq, ald: s1bAld, iso: s1bIso, mbo: s1bMbo }, breaks: [19.9],
    miss: s1bMiss, missDots: s1bMissDots },
  { title: "Period S2", x0: 688,    month: 6, days: [5.198, 13.83], vDom: [-0.29, 6.47], vTicks: [0, 1, 2, 3, 4, 5, 6], vFmt: "d", mult: "1e\u22122",
    dots: s2Dots, avg: s2Avg, cohre: s2Cohre, lod: lodLevels[2],
    fracT: s2FracT, frac: { mono: s2Mono, sesq: s2Sesq, glv: s2Glv, ald: s2Ald, oth: s2Oth, acid: s2Acid, iso: s2Iso, mbo: s2Mbo }, breaks: [12.25],
    miss: s2Miss, missDots: s2MissDots },
  { title: "Period S3.a", x0: 988,  month: 7, days: [16.18, 23.78], vDom: [-0.128, 1.0], vTicks: [0, 0.2, 0.4, 0.6, 0.8, 1.0], vFmt: ".1f", mult: "1e\u22122",
    dots: s3aDots, avg: s3aAvg, cohre: s3aCohre, lod: lodLevels[3],
    fracT: s3aFracT, frac: { mono: s3aMono, sesq: s3aSesq, glv: s3aGlv, ald: s3aAld, oth: s3aOth, acid: s3aAcid, iso: s3aIso, mbo: s3aMbo }, breaks: [],
    miss: s3aMiss, missDots: s3aMissDots },
  { title: "Period S3.b", x0: 1288, month: 8, days: [6.175, 13.85], vDom: [-3.92, 5.82], vTicks: [-2, 0, 2, 4], vFmt: "d", mult: "1e\u22124",
    dots: s3bDots, avg: s3bAvg, cohre: s3bCohre, lod: lodLevels[4],
    fracT: s3bFracT, frac: { mono: s3bMono, sesq: s3bSesq, glv: s3bGlv, ald: s3bAld, acid: s3bAcid, iso: s3bIso }, breaks: [],
    miss: s3bMiss, missDots: s3bMissDots }
];

function toDate(day, month) {
  return new Date(Date.UTC(2021, month, 1) + (day - 1) * 864e5);
}

const svg = d3.select("#chart")
  .append("svg")
  .attr("width", FH)
  .attr("height", FW);

// rotate the landscape figure a quarter turn counter-clockwise onto the page
const fig = svg.append("g").attr("transform", `translate(0,${FW}) rotate(-90)`);
const defs = svg.append("defs");

const dotColor = "#a8a8a8";

function styleAxis(g, size) {
  g.select(".domain").remove();
  g.selectAll(".tick line").attr("stroke", "#000").attr("stroke-width", 1);
  g.selectAll(".tick text").attr("font-size", size).attr("fill", "#000")
    .attr("font-family", "DejaVu Sans").attr("font-weight", "bold");
}

periods.forEach((p, i) => {
  const x = d3.scaleUtc()
    .domain(p.days.map(d => toDate(d, p.month)))
    .range([p.x0, p.x0 + PW]);
  const xt = d => x(toDate(d, p.month));
  const y1 = d3.scaleLinear().domain(p.vDom).range([rowBot[0], rowTop[0]]);
  const y2 = d3.scaleLinear().domain([0, 1]).range([rowBot[1], rowTop[1]]);
  const y3 = d3.scaleLinear().domain([0, 1]).range([rowBot[2], rowTop[2]]);

  // clip rectangles for the three rows
  [0, 1, 2].forEach(r => {
    defs.append("clipPath").attr("id", `clip${i}${r}`)
      .append("rect")
      .attr("x", p.x0).attr("y", rowTop[r])
      .attr("width", PW).attr("height", rowBot[r] - rowTop[r]);
  });

  // ---- row 1 : OHRE ----
  const g1 = fig.append("g").attr("clip-path", `url(#clip${i}0)`);
  g1.selectAll("circle")
    .data(p.dots)
    .join("circle")
    .attr("cx", d => xt(d[0]))
    .attr("cy", d => y1(d[1]))
    .attr("r", 2)
    .attr("fill", dotColor);

  g1.append("path")
    .datum(p.avg)
    .attr("fill", "none")
    .attr("stroke", "#000")
    .attr("stroke-width", 1.1)
    .attr("d", d3.line().x(d => xt(d[0])).y(d => y1(d[1])));

  g1.append("path")
    .datum(p.cohre)
    .attr("fill", "#ff2020")
    .attr("fill-opacity", 0.45)
    .attr("d", d3.area().x(d => xt(d[0])).y0(d => y1(d[2])).y1(d => y1(d[3])));

  g1.append("path")
    .datum(p.cohre)
    .attr("fill", "none")
    .attr("stroke", "#ff0000")
    .attr("stroke-width", 1)
    .attr("d", d3.line().x(d => xt(d[0])).y(d => y1(d[1])));

  const t0 = p.avg[0][0], t1 = p.avg[p.avg.length - 1][0];
  g1.append("line")
    .attr("x1", xt(t0)).attr("x2", xt(t1))
    .attr("y1", y1(p.lod)).attr("y2", y1(p.lod))
    .attr("stroke", "#000")
    .attr("stroke-width", 0.8)
    .attr("stroke-dasharray", "1,1.6");

  // ---- row 2 : fractions of COHRE ----
  let rows = p.fracT.map((t, j) => {
    const r = { t };
    let sum = 0;
    fracKeys.forEach(k => { r[k] = p.frac[k] ? p.frac[k][j] : 0; sum += r[k]; });
    fracKeys.forEach(k => { r[k] = r[k] / sum; });
    return r;
  });
  p.breaks.forEach(b => {
    const idx = rows.findIndex(r => r.t > b);
    const gap = { t: b, gap: true };
    fracKeys.forEach(k => { gap[k] = 0; });
    rows.splice(idx, 0, gap);
  });
  const series = d3.stack().keys(fracKeys)(rows);
  const area2 = d3.area()
    .defined(d => !d.data.gap)
    .x(d => xt(d.data.t))
    .y0(d => y2(d[0]))
    .y1(d => y2(d[1]));
  fig.append("g").attr("clip-path", `url(#clip${i}1)`)
    .selectAll("path")
    .data(series)
    .join("path")
    .attr("fill", (d, k) => fracColors[k])
    .attr("d", area2);

  // ---- row 3 : missing OHRE ----
  const g3 = fig.append("g").attr("clip-path", `url(#clip${i}2)`);
  g3.selectAll("circle")
    .data(p.missDots)
    .join("circle")
    .attr("cx", d => xt(d[0]))
    .attr("cy", d => y3(d[1]))
    .attr("r", 2)
    .attr("fill", dotColor);
  g3.append("path")
    .datum(p.miss)
    .attr("fill", "none")
    .attr("stroke", "#000")
    .attr("stroke-width", 1.1)
    .attr("d", d3.line().defined(d => d !== null).x(d => xt(d[0])).y(d => y3(d[1])));

  // ---- axes ----
  fig.append("g")
    .attr("transform", `translate(${p.x0},0)`)
    .call(d3.axisLeft(y1).tickValues(p.vTicks).tickFormat(d3.format(p.vFmt)).tickSize(3.5).tickPadding(5))
    .call(g => styleAxis(g, 13));

  [y2, y3].forEach(ys => {
    fig.append("g")
      .attr("transform", `translate(${p.x0},0)`)
      .call(d3.axisLeft(ys).tickValues([0, 0.2, 0.4, 0.6, 0.8])
        .tickFormat(i === 0 ? d3.format(".1f") : () => "").tickSize(3.5).tickPadding(5))
      .call(g => styleAxis(g, 13));
    fig.append("g")
      .attr("transform", `translate(${p.x0 + PW},0)`)
      .call(d3.axisRight(ys).tickValues([0.2, 0.4, 0.6, 0.8]).tickFormat(() => "").tickSize(3.5))
      .call(g => styleAxis(g, 13));
  });

  fig.append("g")
    .attr("transform", `translate(0,${rowBot[2]})`)
    .call(d3.axisBottom(x).ticks(d3.utcDay.every(1)).tickFormat(d3.utcFormat("%d,%m")).tickSize(3.5))
    .call(g => styleAxis(g, 14))
    .call(g => g.selectAll(".tick text")
      .attr("y", 0).attr("dy", "0.35em")
      .attr("text-anchor", "middle")
      .attr("transform", "translate(0,30) rotate(-45)"));

  // ---- frames ----
  [0, 1, 2].forEach(r => {
    fig.append("rect")
      .attr("x", p.x0).attr("y", rowTop[r])
      .attr("width", PW).attr("height", rowBot[r] - rowTop[r])
      .attr("fill", "none")
      .attr("stroke", "#000")
      .attr("stroke-width", 2);
  });

  // ---- title and offset text ----
  fig.append("text")
    .attr("x", p.x0 + PW / 2).attr("y", 26)
    .attr("text-anchor", "middle")
    .attr("font-size", 18)
    .text(p.title);

  fig.append("text")
    .attr("x", p.x0 + 2).attr("y", 47)
    .attr("font-size", 13)
    .text(p.mult);
});

// ---------- y labels (first column only) ----------
fig.append("text")
  .attr("transform", `translate(21,${(rowTop[0] + rowBot[0]) / 2}) rotate(-90)`)
  .attr("text-anchor", "middle")
  .attr("font-size", 16)
  .text("OHRE");

const yl1b = fig.append("text")
  .attr("transform", `translate(43,${(rowTop[0] + rowBot[0]) / 2}) rotate(-90)`)
  .attr("text-anchor", "middle")
  .attr("font-size", 16);
yl1b.append("tspan").text("[m");
yl1b.append("tspan").attr("dy", -6).attr("font-size", 11).text("3");
yl1b.append("tspan").attr("dy", 6).text(" s");
yl1b.append("tspan").attr("dy", -6).attr("font-size", 11).text("\u22122");
yl1b.append("tspan").attr("dy", 6).text(" g");
yl1b.append("tspan").attr("dy", -6).attr("font-size", 11).text("\u22121");
yl1b.append("tspan").attr("dy", 10).attr("dx", -15).attr("font-size", 11).attr("font-style", "italic").text("dw");
yl1b.append("tspan").attr("dy", -4).text("]");

fig.append("text")
  .attr("transform", `translate(45,${(rowTop[1] + rowBot[1]) / 2}) rotate(-90)`)
  .attr("text-anchor", "middle")
  .attr("font-size", 16)
  .text("Fraction of COHRE");

fig.append("text")
  .attr("transform", `translate(45,${(rowTop[2] + rowBot[2]) / 2}) rotate(-90)`)
  .attr("text-anchor", "middle")
  .attr("font-size", 16)
  .text("Missing OHRE");

// ---------- legend, OHRE row ----------
const leg1 = fig.append("g");
const legY = [66, 84, 102, 120];
const legText = ["TOHRE", "TOHRE (1h-average)", "COHRE", "LOD"];
leg1.append("circle").attr("cx", 143).attr("cy", legY[0]).attr("r", 2).attr("fill", dotColor);
leg1.append("line").attr("x1", 131).attr("x2", 156).attr("y1", legY[1]).attr("y2", legY[1])
  .attr("stroke", "#000").attr("stroke-width", 1.1);
leg1.append("line").attr("x1", 131).attr("x2", 156).attr("y1", legY[2]).attr("y2", legY[2])
  .attr("stroke", "#ff0000").attr("stroke-width", 1);
leg1.append("line").attr("x1", 131).attr("x2", 156).attr("y1", legY[3]).attr("y2", legY[3])
  .attr("stroke", "#000").attr("stroke-width", 0.8).attr("stroke-dasharray", "1,1.6");
leg1.selectAll("text")
  .data(legText)
  .join("text")
  .attr("x", 166)
  .attr("y", (d, k) => legY[k])
  .attr("dy", "0.35em")
  .attr("font-size", 11.3)
  .text(d => d);

// ---------- legend, fraction row ----------
const leg2 = fig.append("g");
leg2.append("rect")
  .attr("x", 131.3).attr("y", 306.7)
  .attr("width", 173.7).attr("height", 176.3)
  .attr("rx", 4)
  .attr("fill", "#fff").attr("fill-opacity", 0.8)
  .attr("stroke", "#ccc").attr("stroke-opacity", 0.8);
const item = leg2.selectAll("g.item")
  .data(fracLabels)
  .join("g")
  .attr("class", "item")
  .attr("transform", (d, k) => `translate(0,${317 + 19.08 * k})`);
item.append("rect")
  .attr("x", 136.7).attr("y", -4.65)
  .attr("width", 26.6).attr("height", 9.3)
  .attr("fill", (d, k) => fracColors[k]);
item.append("text")
  .attr("x", 174).attr("y", 0)
  .attr("dy", "0.35em")
  .attr("font-size", 13)
  .text(d => d);
</script>
</body>
</html>
